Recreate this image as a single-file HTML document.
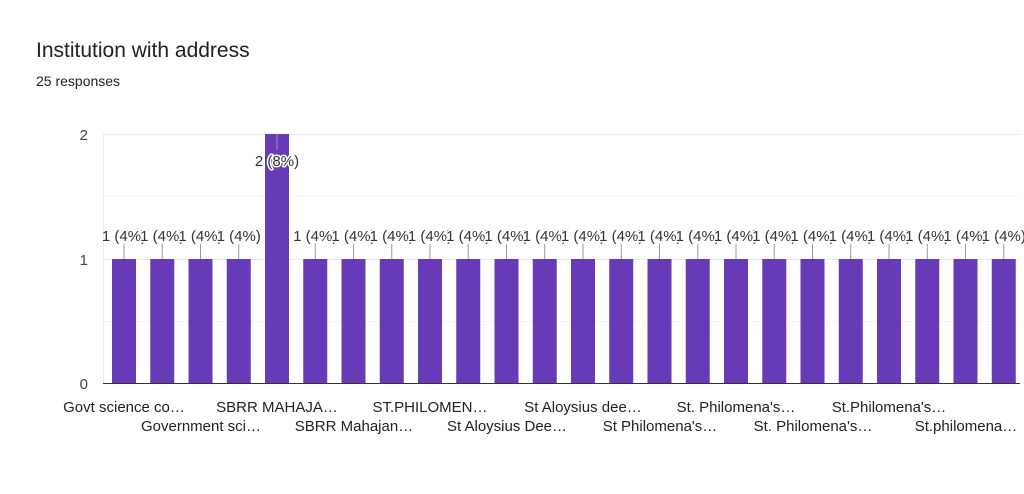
<!DOCTYPE html>
<html><head><meta charset="utf-8"><style>
body{margin:0;background:#fff;width:1024px;height:489px;overflow:hidden;font-family:"Liberation Sans",Arial,sans-serif}
</style></head><body>
<svg width="1024" height="489" xmlns="http://www.w3.org/2000/svg" font-family="Liberation Sans, Arial, sans-serif">
<text x="36" y="57" font-size="21" fill="#202124">Institution with address</text>
<text x="36" y="86" font-size="14" fill="#202124">25 responses</text>
<g stroke="#ebebeb" stroke-width="1">
<line x1="103" x2="1020" y1="134.5" y2="134.5"/>
<line x1="103" x2="1020" y1="196.5" y2="196.5" stroke="#f5f5f5"/>
<line x1="103" x2="1020" y1="259.5" y2="259.5"/>
<line x1="103" x2="1020" y1="321.5" y2="321.5" stroke="#f5f5f5"/>
<line x1="103.5" x2="103.5" y1="134" y2="383"/>
</g>
<g font-size="15" fill="#444" text-anchor="end">
<text x="88" y="140">2</text><text x="88" y="265">1</text><text x="88" y="389">0</text>
</g>
<g id="bars" fill="#673ab7"></g>
<g id="lbl" font-size="15" fill="#333" text-anchor="middle" stroke-linejoin="round"></g>
<line x1="103" x2="1020" y1="383.5" y2="383.5" stroke="#333" stroke-width="1"/>
<g font-size="15" fill="#222" text-anchor="middle">
<text x="124" y="412">Govt science co…</text>
<text x="277" y="412">SBRR MAHAJA…</text>
<text x="430" y="412">ST.PHILOMEN…</text>
<text x="583" y="412">St Aloysius dee…</text>
<text x="736" y="412">St. Philomena's…</text>
<text x="889" y="412">St.Philomena's…</text>
<text x="201" y="431">Government sci…</text>
<text x="354" y="431">SBRR Mahajan…</text>
<text x="507" y="431">St Aloysius Dee…</text>
<text x="660" y="431">St Philomena's…</text>
<text x="813" y="431">St. Philomena's…</text>
<text x="966" y="431">St.philomena…</text>
</g>
</svg>
<script>
var ns="http://www.w3.org/2000/svg",b=document.getElementById("bars"),l=document.getElementById("lbl");
for(var i=0;i<24;i++){var c=124+i*38.25,v=(i==4)?2:1,yt=(v==2)?134:259;
var r=document.createElementNS(ns,"rect");r.setAttribute("x",c-12);r.setAttribute("width",24);r.setAttribute("y",yt);r.setAttribute("height",383-yt);b.appendChild(r);
var ln=document.createElementNS(ns,"line");ln.setAttribute("x1",c);ln.setAttribute("x2",c);ln.setAttribute("y1",yt);ln.setAttribute("y2",v==2?150:244);ln.setAttribute("stroke","#999");l.appendChild(ln);
var t=document.createElementNS(ns,"text");t.setAttribute("x",c);t.setAttribute("y",v==2?166:241);t.setAttribute("stroke","#fff");t.setAttribute("stroke-width","3");t.setAttribute("paint-order","stroke");t.textContent=v==2?"2 (8%)":"1 (4%)";l.appendChild(t);}
</script>
</body></html>
